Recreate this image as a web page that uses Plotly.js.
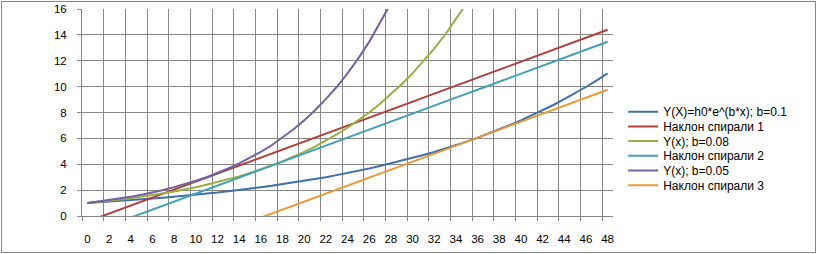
<!DOCTYPE html>
<html>
<head>
<meta charset="utf-8">
<script src="https://cdn.plot.ly/plotly-3.0.1.min.js"></script>
<style>
  html, body { margin: 0; padding: 0; background: #fff; }
  #wrap { position: relative; width: 817px; height: 254px; }
  #chart { width: 817px; height: 254px; }
  #frame { position: absolute; left: 1px; top: 1px; width: 813px; height: 250px; border: 1px solid #868686; pointer-events: none; }
</style>
</head>
<body>
<div id="wrap"><div id="chart"></div><div id="frame"></div></div>
<script>
// Categories (x)
var xVals = [0,1,2,3,4,5,6,7,8,9,10,11,12,13,14,15,16,17,18,19,20,21,22,23,24,25,26,27,28,29,30,31,32,33,34,35,36,37,38,39,40,41,42,43,44,45,46,47,48];
var xTickLabels = ["0","2","4","6","8","10","12","14","16","18","20","22","24","26","28","30","32","34","36","38","40","42","44","46","48"];
var xTickVals = [0,2,4,6,8,10,12,14,16,18,20,22,24,26,28,30,32,34,36,38,40,42,44,46,48];

// Series values
var seriesNames = ["Y(X)=h0*e^(b*x); b=0.1", "Наклон спирали 1", "Y(x); b=0.08", "Наклон спирали 2", "Y(x); b=0.05", "Наклон спирали 3"];

var yBlue = [1.00,1.05,1.11,1.16,1.22,1.28,1.35,1.42,1.49,1.57,1.65,1.73,1.82,1.92,2.01,2.12,2.23,2.34,2.46,2.59,2.72,2.86,3.00,3.16,3.32,3.49,3.67,3.86,4.06,4.26,4.48,4.71,4.95,5.21,5.47,5.75,6.05,6.36,6.69,7.03,7.39,7.77,8.17,8.58,9.03,9.49,9.97,10.49,11.02];
var yRed = [-0.43,-0.12,0.19,0.50,0.81,1.12,1.42,1.73,2.04,2.35,2.66,2.97,3.28,3.59,3.90,4.21,4.51,4.82,5.13,5.44,5.75,6.06,6.37,6.68,6.99,7.30,7.60,7.91,8.22,8.53,8.84,9.15,9.46,9.77,10.08,10.39,10.69,11.00,11.31,11.62,11.93,12.24,12.55,12.86,13.17,13.48,13.78,14.09,14.40];
var yGreen = [1.00,1.08,1.17,1.27,1.38,1.49,1.62,1.75,1.90,2.05,2.23,2.41,2.61,2.83,3.06,3.32,3.60,3.90,4.22,4.57,4.95,5.37,5.81,6.30,6.82,7.39,8.00,8.67,9.39,10.18,11.02,11.94,12.94,14.01,15.18,16.44,17.81];
var yTeal = [-1.36,-1.05,-0.74,-0.43,-0.12,0.19,0.49,0.80,1.11,1.42,1.73,2.04,2.35,2.66,2.97,3.28,3.58,3.89,4.20,4.51,4.82,5.13,5.44,5.75,6.06,6.37,6.67,6.98,7.29,7.60,7.91,8.22,8.53,8.84,9.15,9.46,9.76,10.07,10.38,10.69,11.00,11.31,11.62,11.93,12.24,12.55,12.85,13.16,13.47];
var yPurple = [1.00,1.11,1.22,1.35,1.49,1.65,1.82,2.01,2.23,2.46,2.72,3.00,3.32,3.67,4.06,4.48,4.95,5.47,6.05,6.69,7.39,8.17,9.03,9.97,11.02,12.18,13.46,14.88,16.44,18.17];
var yOrange = [-5.07,-4.76,-4.45,-4.14,-3.83,-3.53,-3.22,-2.91,-2.60,-2.29,-1.98,-1.67,-1.36,-1.05,-0.74,-0.44,-0.13,0.18,0.49,0.80,1.11,1.42,1.73,2.04,2.35,2.66,2.96,3.27,3.58,3.89,4.20,4.51,4.82,5.13,5.44,5.75,6.05,6.36,6.67,6.98,7.29,7.60,7.91,8.22,8.53,8.84,9.14,9.45,9.76];

var colors = ["#3F70AB", "#B0403D", "#9BAD40", "#40A0B5", "#7462A0", "#E8993A"];
var ys = [yBlue, yRed, yGreen, yTeal, yPurple, yOrange];

var traces = ys.map(function (y, i) {
  return {
    type: "scatter", mode: "lines",
    x: xVals.slice(0, y.length), y: y,
    name: seriesNames[i],
    line: { color: colors[i], width: 2 },
    hoverinfo: "skip"
  };
});
// helper trace to activate the gridline axis
traces.push({ type: "scatter", mode: "lines", x: [xVals[0]], y: [null], xaxis: "x2", showlegend: false, hoverinfo: "skip" });

var fnt = { family: "Liberation Sans, Arial, sans-serif", size: 11.5, color: "#000" };
var legFnt = { family: "Liberation Sans, Arial, sans-serif", size: 12, color: "#000" };
var grid = "#878787";

var layout = {
  width: 817, height: 254,
  margin: { l: 82, r: 204, t: 9, b: 38, pad: 0 },
  paper_bgcolor: "rgba(0,0,0,0)", plot_bgcolor: "#fff",
  font: fnt,
  showlegend: true,
  legend: {
    x: 1.0192, xanchor: "left", y: 0.574, yanchor: "top",
    bgcolor: "rgba(0,0,0,0)", borderwidth: 0, font: legFnt,
    tracegroupgap: 0, itemclick: false, itemdoubleclick: false
  },
  xaxis: {
    range: [-0.5, 48.5], tickmode: "array", tickvals: xTickVals, ticktext: xTickLabels,
    showgrid: false, zeroline: false, showline: true, linecolor: grid, linewidth: 1,
    ticks: "", ticklabelstandoff: 12, tickfont: fnt, fixedrange: true
  },
  xaxis2: {
    overlaying: "x", side: "bottom", anchor: "y",
    range: [-0.5, 48.5], tick0: -0.5, dtick: 2, tickmode: "linear",
    showgrid: true, gridcolor: grid, gridwidth: 1, zeroline: false,
    showline: false, showticklabels: false, ticks: "outside", ticklen: 4, tickcolor: grid, tickwidth: 1, fixedrange: true
  },
  yaxis: {
    range: [0, 16], dtick: 2, tick0: 0,
    showgrid: true, gridcolor: grid, gridwidth: 1, zeroline: false,
    showline: true, linecolor: grid, linewidth: 1,
    ticks: "outside", ticklen: 4, tickcolor: grid, tickwidth: 1,
    ticklabelstandoff: 8, tickfont: fnt, fixedrange: true
  }
};

Plotly.newPlot("chart", traces, layout, { displayModeBar: false, staticPlot: true }).then(function (gd) {
  // tighten legend row spacing to match the reference
  var items = gd.querySelectorAll(".legend .traces");
  if (items.length) {
    var first = items[0].getAttribute("transform") || "";
    var m = /translate\(([-\d.]+)[ ,]+([-\d.]+)\)/.exec(first);
    var x0 = m ? parseFloat(m[1]) : 0;
    var y0 = m ? parseFloat(m[2]) : 0;
    for (var i = 0; i < items.length; i++) {
      items[i].setAttribute("transform", "translate(" + x0 + "," + (y0 + i * 14.7) + ")");
    }
  }
});
</script>
</body>
</html>
